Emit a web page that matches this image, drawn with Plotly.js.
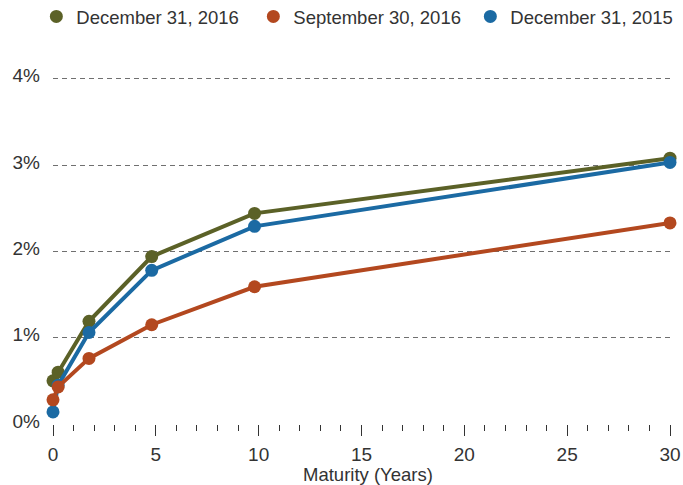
<!DOCTYPE html>
<html>
<head>
<meta charset="utf-8">
<script src="https://cdn.plot.ly/plotly-3.0.1.min.js"></script>
<style>html,body{margin:0;padding:0;background:#fff;}#chart{width:683px;height:485px;}</style>
</head>
<body>
<div id="chart"></div>
<script>
// Maturity in years
const maturity = [0, 0.25, 1.75, 4.8, 9.8, 30];
// Yields in percent
const dec2016 = [0.50, 0.60, 1.19, 1.94, 2.44, 3.08];
const sep2016 = [0.28, 0.43, 0.76, 1.15, 1.59, 2.33];
const dec2015 = [0.14, 0.45, 1.06, 1.78, 2.29, 3.03];
const seriesNames = ["December 31, 2016", "September 30, 2016", "December 31, 2015"];
const yTickVals = [0, 1, 2, 3, 4];
const yTickText = ["0%", "1%", "2%", "3%", "4%"];
const xTickVals = [0, 5, 10, 15, 20, 25, 30];
const xTitle = "Maturity (Years)";

const colors = {green: "#5b6127", orange: "#b3481f", blue: "#1b6aa3"};

function lineTrace(y, name, color) {
  return {
    x: maturity, y: y, name: name, type: "scatter", mode: "lines+markers",
    line: {color: color, width: 4},
    marker: {color: color, size: 13},
    cliponaxis: false, showlegend: false, hoverinfo: "x+y"
  };
}
function legendTrace(name, color, rank) {
  return {
    x: [null], y: [null], name: name, type: "scatter", mode: "markers",
    marker: {color: color, size: 13}, legendrank: rank, showlegend: true
  };
}

const data = [
  lineTrace(dec2016, seriesNames[0], colors.green),
  lineTrace(dec2015, seriesNames[2], colors.blue),
  lineTrace(sep2016, seriesNames[1], colors.orange),
  legendTrace(seriesNames[0], colors.green, 1),
  legendTrace(seriesNames[1], colors.orange, 2),
  legendTrace(seriesNames[2], colors.blue, 3)
];

const layout = {
  width: 683, height: 485,
  margin: {l: 53, r: 13, t: 77, b: 61, pad: 0, autoexpand: false},
  paper_bgcolor: "#fff", plot_bgcolor: "#fff",
  font: {family: "Liberation Sans, Arial, sans-serif", size: 19, color: "#333"},
  showlegend: true,
  legend: {
    orientation: "h", x: -0.027, xanchor: "left", y: 1.228, yanchor: "top",
    font: {size: 18.5, color: "#333"}, itemwidth: 30, entrywidth: 172, traceorder: "normal"
  },
  xaxis: {
    range: [0, 30], tickvals: xTickVals, ticks: "outside", ticklen: 11, tickwidth: 1, tickcolor: "#333",
    minor: {dtick: 1, ticks: "outside", ticklen: 6, tickwidth: 1, tickcolor: "#333"},
    showgrid: false, zeroline: false, showline: false,
    ticklabelstandoff: 2
  },
  yaxis: {
    range: [0, 4.02], tickvals: yTickVals, ticktext: yTickText, ticks: "",
    showgrid: true, gridcolor: "#707070", gridwidth: 1, griddash: "5px,4px",
    zeroline: true, zerolinecolor: "rgba(0,0,0,0)", showline: false,
    ticklabelstandoff: 12, ticklabelshift: -3
  },
  annotations: [{
    text: xTitle, xref: "paper", yref: "paper", x: 0.5105, y: 0,
    xanchor: "center", yanchor: "middle", yshift: -50, showarrow: false,
    font: {size: 18.5, color: "#333"}
  }]
};

Plotly.newPlot("chart", data, layout, {displayModeBar: false, staticPlot: true});
</script>
</body>
</html>
